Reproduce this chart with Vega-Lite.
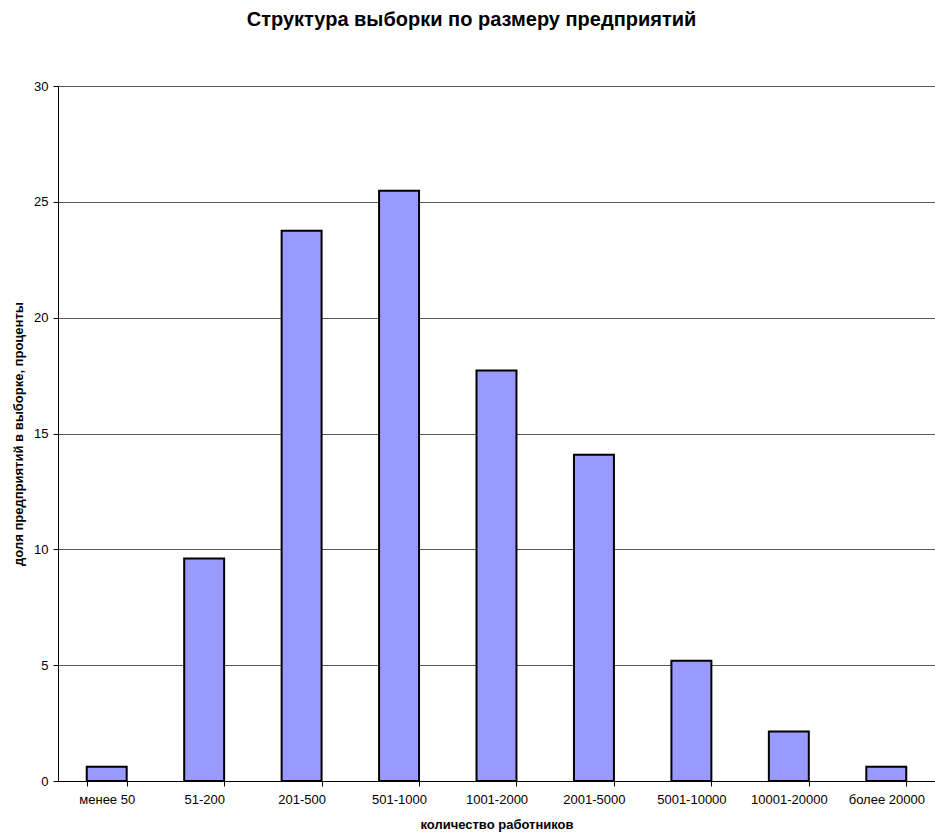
{
  "$schema": "https://vega.github.io/schema/vega-lite/v6.json",
  "width": 877,
  "height": 695,
  "autosize": "none",
  "padding": {"left": 58, "top": 86, "right": 0, "bottom": 53},
  "background": "white",
  "title": {
    "text": "Структура выборки по размеру предприятий",
    "font": "Liberation Sans",
    "fontSize": 20,
    "fontWeight": "bold",
    "color": "black",
    "anchor": "middle",
    "offset": 50,
    "dx": -25
  },
  "config": {
    "view": {"stroke": null},
    "axis": {"labelFont": "Liberation Sans", "titleFont": "Liberation Sans", "labelColor": "black", "titleColor": "black"}
  },
  "data": {
    "values": [
      {"category": "менее 50", "value": 0.62},
      {"category": "51-200", "value": 9.6},
      {"category": "201-500", "value": 23.75},
      {"category": "501-1000", "value": 25.48},
      {"category": "1001-2000", "value": 17.72},
      {"category": "2001-5000", "value": 14.08},
      {"category": "5001-10000", "value": 5.19},
      {"category": "10001-20000", "value": 2.14},
      {"category": "более 20000", "value": 0.62}
    ]
  },
  "mark": {"type": "bar", "fill": "#9999FF", "stroke": "black", "strokeWidth": 2},
  "encoding": {
    "x": {
      "field": "category",
      "type": "nominal",
      "sort": null,
      "scale": {"paddingInner": 0.59, "paddingOuter": 0.295},
      "axis": {
        "title": "количество работников",
        "titleFontSize": 13,
        "titleFontWeight": "bold",
        "titlePadding": 12,
        "labelAngle": 0,
        "labelFontSize": 13,
        "labelPadding": 7,
        "tickBand": "extent",
        "tickSize": 5,
        "tickColor": "black",
        "domainColor": "black",
        "grid": false
      }
    },
    "y": {
      "field": "value",
      "type": "quantitative",
      "scale": {"domain": [0, 30], "nice": false},
      "axis": {
        "title": "доля предприятий в выборке, проценты",
        "titleFontSize": 13,
        "titleFontWeight": "bold",
        "titlePadding": 8,
        "values": [0, 5, 10, 15, 20, 25, 30],
        "labelFontSize": 13,
        "labelPadding": 5,
        "tickSize": 5,
        "tickColor": "black",
        "domainColor": "black",
        "grid": true,
        "gridColor": "#555555",
        "gridWidth": 1
      }
    }
  }
}
